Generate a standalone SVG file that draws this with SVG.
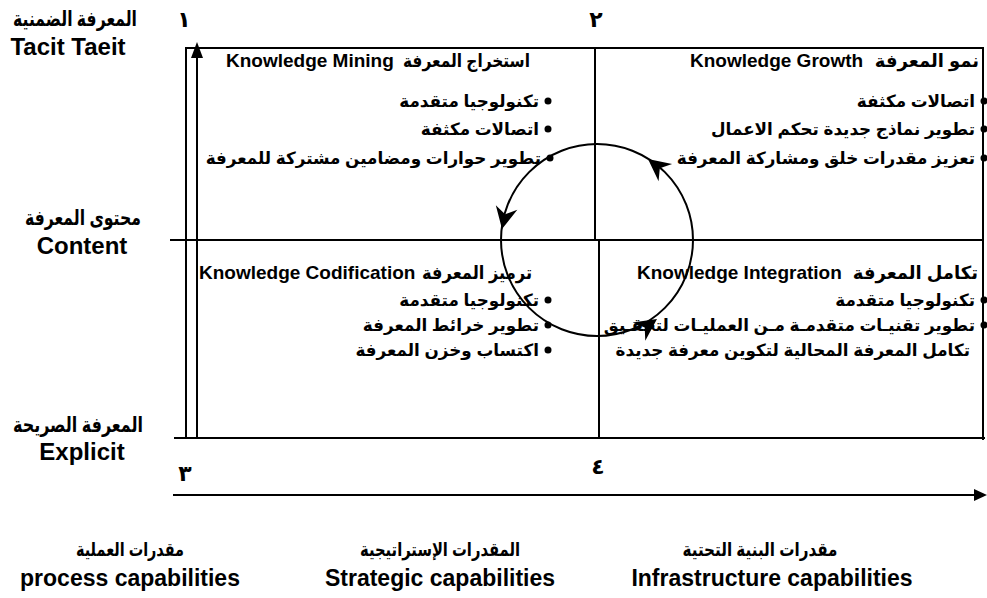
<svg xmlns="http://www.w3.org/2000/svg" xmlns:xlink="http://www.w3.org/1999/xlink" width="987" height="598" viewBox="0 0 987 598">
<defs>
<style>
text{font-family:"Liberation Sans","DejaVu Sans",sans-serif;font-weight:bold;fill:#000}
.t{font-size:19px}
.ta{font-size:18px}
.b{font-size:16.8px}
.lab{font-size:24px}
.ar{font-size:21px}
.bar{font-size:19px}
.blab{font-size:23px}
.num{font-size:22px}
.ln{stroke:#000;stroke-width:2;fill:none}
.dot{fill:#000}
</style>
<path id="ah" d="M0,0 L-22,-11 L-15,0 L-22,11 Z" fill="#000"/>
</defs>
<rect width="987" height="598" fill="#fff"/>

<g id="frame">
<line class="ln" x1="186" y1="48" x2="983" y2="48"/>
<line class="ln" x1="983" y1="47" x2="983" y2="440"/>
<line class="ln" x1="186" y1="47" x2="186" y2="438"/>
<line class="ln" x1="174" y1="438" x2="985" y2="438"/>
<line class="ln" x1="170" y1="240" x2="983" y2="240"/>
<line class="ln" x1="595" y1="48" x2="595" y2="240"/>
<line class="ln" x1="599" y1="240" x2="599" y2="438"/>
</g>

<g id="connectors">
<line class="ln" x1="197" y1="438" x2="197" y2="56"/>
<polygon points="197,42 191,58 203,58" fill="#000"/>
<line class="ln" x1="173" y1="495" x2="976" y2="495"/>
<polygon points="987,495 974,489 974,501" fill="#000"/>
<circle class="ln" cx="597" cy="240" r="96"/>
<use xlink:href="#ah" transform="translate(648,159) rotate(218)"/>
<use xlink:href="#ah" transform="translate(502,229) rotate(102)"/>
<use xlink:href="#ah" transform="translate(657,319) rotate(-35)"/>
</g>

<g id="q-mining">
<text class="t" x="226" y="67">Knowledge Mining</text>
<text class="ta" x="530" y="67" text-anchor="end" textLength="127" lengthAdjust="spacingAndGlyphs">استخراج المعرفة</text>
<circle class="dot" cx="548" cy="101" r="3.5"/>
<text class="b" x="539" y="107" text-anchor="end">تكنولوجيا متقدمة</text>
<circle class="dot" cx="548" cy="129" r="3.5"/>
<text class="b" x="539" y="135" text-anchor="end">اتصالات مكثفة</text>
<circle class="dot" cx="550" cy="158" r="3.5"/>
<text class="b" x="541" y="164" text-anchor="end">تطوير حوارات ومضامين مشتركة للمعرفة</text>
</g>

<g id="q-growth">
<text class="t" x="690" y="67">Knowledge Growth</text>
<text class="ta" x="979" y="67" text-anchor="end">نمو المعرفة</text>
<circle class="dot" cx="984" cy="101" r="3.5"/>
<text class="b" x="975" y="107" text-anchor="end">اتصالات مكثفة</text>
<circle class="dot" cx="984" cy="129" r="3.5"/>
<text class="b" x="975" y="135" text-anchor="end">تطوير نماذج جديدة تحكم الاعمال</text>
<circle class="dot" cx="984" cy="158" r="3.5"/>
<text class="b" x="975" y="164" text-anchor="end">تعزيز مقدرات خلق ومشاركة المعرفة</text>
</g>

<g id="q-codification">
<text class="t" x="199" y="279">Knowledge Codification</text>
<text class="ta" x="532" y="279" text-anchor="end" textLength="110" lengthAdjust="spacingAndGlyphs">ترميز المعرفة</text>
<circle class="dot" cx="548" cy="300" r="3.5"/>
<text class="b" x="539" y="306" text-anchor="end">تكنولوجيا متقدمة</text>
<circle class="dot" cx="548" cy="325" r="3.5"/>
<text class="b" x="539" y="331" text-anchor="end">تطوير خرائط المعرفة</text>
<circle class="dot" cx="548" cy="350" r="3.5"/>
<text class="b" x="539" y="356" text-anchor="end">اكتساب وخزن المعرفة</text>
</g>

<g id="q-integration">
<text class="t" x="637" y="279">Knowledge Integration</text>
<text class="ta" x="978" y="279" text-anchor="end">تكامل المعرفة</text>
<circle class="dot" cx="984" cy="300" r="3.5"/>
<text class="b" x="975" y="306" text-anchor="end">تكنولوجيا متقدمة</text>
<circle class="dot" cx="984" cy="325" r="3.5"/>
<text class="b" x="975" y="331" text-anchor="end">تطوير تقنيـات متقدمـة مـن العمليـات لتحقـيق</text>
<text class="b" x="970" y="356" text-anchor="end">تكامل المعرفة المحالية لتكوين معرفة جديدة</text>
</g>

<g id="numbers">
<text class="num" x="184" y="27" text-anchor="middle">١</text>
<text class="num" x="596" y="27" text-anchor="middle">٢</text>
<text class="num" x="185" y="481" text-anchor="middle">٣</text>
<text class="num" x="598" y="474" text-anchor="middle">٤</text>
</g>

<g id="label-tacit">
<text class="ar" x="75" y="26" text-anchor="middle" textLength="124" lengthAdjust="spacingAndGlyphs">المعرفة الضمنية</text>
<text class="lab" x="68" y="55" text-anchor="middle">Tacit Taeit</text>
</g>
<g id="label-content">
<text class="ar" x="83" y="225" text-anchor="middle" textLength="116" lengthAdjust="spacingAndGlyphs">محتوى المعرفة</text>
<text class="lab" x="82" y="254" text-anchor="middle">Content</text>
</g>
<g id="label-explicit">
<text class="ar" x="78" y="432" text-anchor="middle" textLength="130" lengthAdjust="spacingAndGlyphs">المعرفة الصريحة</text>
<text class="lab" x="82" y="460" text-anchor="middle">Explicit</text>
</g>

<g id="label-process">
<text class="bar" x="130" y="556" text-anchor="middle" textLength="108" lengthAdjust="spacingAndGlyphs">مقدرات العملية</text>
<text class="blab" x="130" y="586" text-anchor="middle">process capabilities</text>
</g>
<g id="label-strategic">
<text class="bar" x="440" y="556" text-anchor="middle" textLength="160" lengthAdjust="spacingAndGlyphs">المقدرات الإستراتيجية</text>
<text class="blab" x="440" y="586" text-anchor="middle">Strategic capabilities</text>
</g>
<g id="label-infrastructure">
<text class="bar" x="760" y="556" text-anchor="middle" textLength="155" lengthAdjust="spacingAndGlyphs">مقدرات البنية التحتية</text>
<text class="blab" x="772" y="586" text-anchor="middle">Infrastructure capabilities</text>
</g>
</svg>
